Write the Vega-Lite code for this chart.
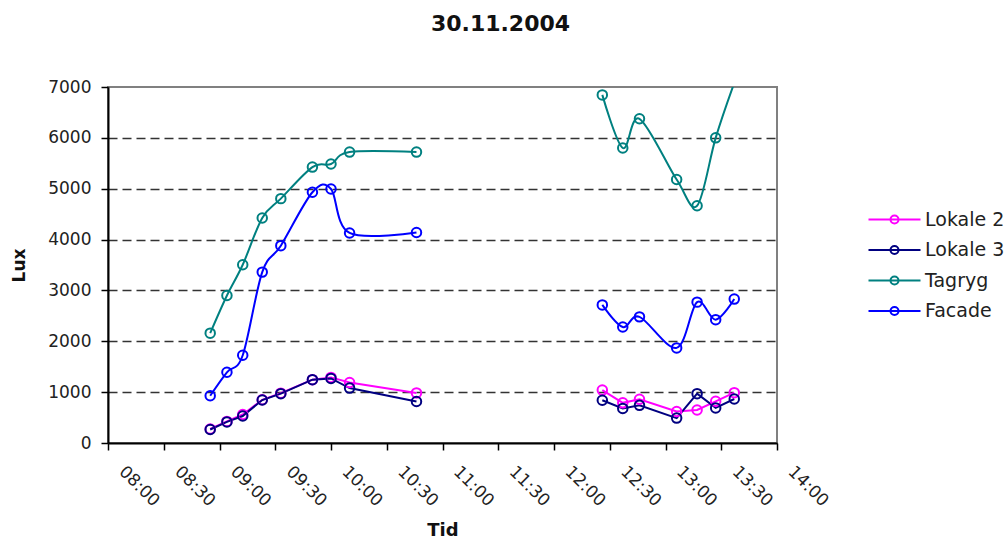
{
  "$schema": "https://vega.github.io/schema/vega-lite/v6.json",
  "width": 669,
  "height": 356,
  "autosize": {"type": "none"},
  "padding": {"left": 108, "top": 87, "right": 231, "bottom": 95},
  "background": "white",
  "config": {"view": {"stroke": "#808080", "strokeWidth": 2}},
  "title": {"text": "30.11.2004", "font": "DejaVu Sans", "fontSize": 22, "fontWeight": "bold", "color": "#111", "anchor": "middle", "frame": "group", "dx": 58, "offset": 25, "baseline": "alphabetic"},
  "data": {"values": [
    {"s": "Tagryg", "seg": 1, "t": "2004-11-30T08:55:00", "v": 2160},
    {"s": "Tagryg", "seg": 1, "t": "2004-11-30T09:04:00", "v": 2900},
    {"s": "Tagryg", "seg": 1, "t": "2004-11-30T09:12:30", "v": 3505},
    {"s": "Tagryg", "seg": 1, "t": "2004-11-30T09:23:00", "v": 4425},
    {"s": "Tagryg", "seg": 1, "t": "2004-11-30T09:33:00", "v": 4805},
    {"s": "Tagryg", "seg": 1, "t": "2004-11-30T09:50:00", "v": 5425},
    {"s": "Tagryg", "seg": 1, "t": "2004-11-30T10:00:00", "v": 5485},
    {"s": "Tagryg", "seg": 1, "t": "2004-11-30T10:10:00", "v": 5720},
    {"s": "Tagryg", "seg": 1, "t": "2004-11-30T10:46:00", "v": 5720},
    {"s": "Tagryg", "seg": 2, "t": "2004-11-30T12:26:00", "v": 6845},
    {"s": "Tagryg", "seg": 2, "t": "2004-11-30T12:37:00", "v": 5800},
    {"s": "Tagryg", "seg": 2, "t": "2004-11-30T12:46:00", "v": 6375},
    {"s": "Tagryg", "seg": 2, "t": "2004-11-30T13:06:00", "v": 5180},
    {"s": "Tagryg", "seg": 2, "t": "2004-11-30T13:17:00", "v": 4665},
    {"s": "Tagryg", "seg": 2, "t": "2004-11-30T13:27:00", "v": 6000},
    {"s": "Tagryg", "seg": 2, "t": "2004-11-30T13:37:00", "v": 7080},
    {"s": "Facade", "seg": 1, "t": "2004-11-30T08:55:00", "v": 930},
    {"s": "Facade", "seg": 1, "t": "2004-11-30T09:04:00", "v": 1390},
    {"s": "Facade", "seg": 1, "t": "2004-11-30T09:12:30", "v": 1725},
    {"s": "Facade", "seg": 1, "t": "2004-11-30T09:23:00", "v": 3360},
    {"s": "Facade", "seg": 1, "t": "2004-11-30T09:33:00", "v": 3880},
    {"s": "Facade", "seg": 1, "t": "2004-11-30T09:50:00", "v": 4930},
    {"s": "Facade", "seg": 1, "t": "2004-11-30T10:00:00", "v": 4995},
    {"s": "Facade", "seg": 1, "t": "2004-11-30T10:10:00", "v": 4130},
    {"s": "Facade", "seg": 1, "t": "2004-11-30T10:46:00", "v": 4140},
    {"s": "Facade", "seg": 2, "t": "2004-11-30T12:26:00", "v": 2715},
    {"s": "Facade", "seg": 2, "t": "2004-11-30T12:37:00", "v": 2280},
    {"s": "Facade", "seg": 2, "t": "2004-11-30T12:46:00", "v": 2480},
    {"s": "Facade", "seg": 2, "t": "2004-11-30T13:06:00", "v": 1870},
    {"s": "Facade", "seg": 2, "t": "2004-11-30T13:17:00", "v": 2770},
    {"s": "Facade", "seg": 2, "t": "2004-11-30T13:27:00", "v": 2425},
    {"s": "Facade", "seg": 2, "t": "2004-11-30T13:37:00", "v": 2830},
    {"s": "Lokale 2", "seg": 1, "t": "2004-11-30T08:55:00", "v": 275},
    {"s": "Lokale 2", "seg": 1, "t": "2004-11-30T09:04:00", "v": 425},
    {"s": "Lokale 2", "seg": 1, "t": "2004-11-30T09:12:30", "v": 560},
    {"s": "Lokale 2", "seg": 1, "t": "2004-11-30T09:23:00", "v": 850},
    {"s": "Lokale 2", "seg": 1, "t": "2004-11-30T09:33:00", "v": 980},
    {"s": "Lokale 2", "seg": 1, "t": "2004-11-30T09:50:00", "v": 1245},
    {"s": "Lokale 2", "seg": 1, "t": "2004-11-30T10:00:00", "v": 1290},
    {"s": "Lokale 2", "seg": 1, "t": "2004-11-30T10:10:00", "v": 1190},
    {"s": "Lokale 2", "seg": 1, "t": "2004-11-30T10:46:00", "v": 985},
    {"s": "Lokale 2", "seg": 2, "t": "2004-11-30T12:26:00", "v": 1040},
    {"s": "Lokale 2", "seg": 2, "t": "2004-11-30T12:37:00", "v": 790},
    {"s": "Lokale 2", "seg": 2, "t": "2004-11-30T12:46:00", "v": 860},
    {"s": "Lokale 2", "seg": 2, "t": "2004-11-30T13:06:00", "v": 620},
    {"s": "Lokale 2", "seg": 2, "t": "2004-11-30T13:17:00", "v": 650},
    {"s": "Lokale 2", "seg": 2, "t": "2004-11-30T13:27:00", "v": 820},
    {"s": "Lokale 2", "seg": 2, "t": "2004-11-30T13:37:00", "v": 990},
    {"s": "Lokale 3", "seg": 1, "t": "2004-11-30T08:55:00", "v": 265},
    {"s": "Lokale 3", "seg": 1, "t": "2004-11-30T09:04:00", "v": 415},
    {"s": "Lokale 3", "seg": 1, "t": "2004-11-30T09:12:30", "v": 530},
    {"s": "Lokale 3", "seg": 1, "t": "2004-11-30T09:23:00", "v": 845},
    {"s": "Lokale 3", "seg": 1, "t": "2004-11-30T09:33:00", "v": 970},
    {"s": "Lokale 3", "seg": 1, "t": "2004-11-30T09:50:00", "v": 1245},
    {"s": "Lokale 3", "seg": 1, "t": "2004-11-30T10:00:00", "v": 1270},
    {"s": "Lokale 3", "seg": 1, "t": "2004-11-30T10:10:00", "v": 1080},
    {"s": "Lokale 3", "seg": 1, "t": "2004-11-30T10:46:00", "v": 815},
    {"s": "Lokale 3", "seg": 2, "t": "2004-11-30T12:26:00", "v": 840},
    {"s": "Lokale 3", "seg": 2, "t": "2004-11-30T12:37:00", "v": 680},
    {"s": "Lokale 3", "seg": 2, "t": "2004-11-30T12:46:00", "v": 740},
    {"s": "Lokale 3", "seg": 2, "t": "2004-11-30T13:06:00", "v": 490},
    {"s": "Lokale 3", "seg": 2, "t": "2004-11-30T13:17:00", "v": 970},
    {"s": "Lokale 3", "seg": 2, "t": "2004-11-30T13:27:00", "v": 690},
    {"s": "Lokale 3", "seg": 2, "t": "2004-11-30T13:37:00", "v": 865}
  ]},
  "encoding": {
    "x": {
      "field": "t", "type": "temporal", "title": "Tid",
      "scale": {"domain": [{"year": 2004, "month": 11, "date": 30, "hours": 8}, {"year": 2004, "month": 11, "date": 30, "hours": 14}], "nice": false},
      "axis": {
        "values": [
          {"year": 2004, "month": 11, "date": 30, "hours": 8},
          {"year": 2004, "month": 11, "date": 30, "hours": 8, "minutes": 30},
          {"year": 2004, "month": 11, "date": 30, "hours": 9},
          {"year": 2004, "month": 11, "date": 30, "hours": 9, "minutes": 30},
          {"year": 2004, "month": 11, "date": 30, "hours": 10},
          {"year": 2004, "month": 11, "date": 30, "hours": 10, "minutes": 30},
          {"year": 2004, "month": 11, "date": 30, "hours": 11},
          {"year": 2004, "month": 11, "date": 30, "hours": 11, "minutes": 30},
          {"year": 2004, "month": 11, "date": 30, "hours": 12},
          {"year": 2004, "month": 11, "date": 30, "hours": 12, "minutes": 30},
          {"year": 2004, "month": 11, "date": 30, "hours": 13},
          {"year": 2004, "month": 11, "date": 30, "hours": 13, "minutes": 30},
          {"year": 2004, "month": 11, "date": 30, "hours": 14}
        ],
        "format": "%H:%M", "labelAngle": 45, "labelAlign": "left", "labelBaseline": "top", "labelOffset": 19, "labelPadding": 13, "labelFlush": false, "labelOverlap": false, "labelFont": "DejaVu Sans", "labelFontSize": 17, "labelColor": "#222", "tickSize": 7, "tickColor": "#000", "tickWidth": 1.5, "domainColor": "#000", "domainWidth": 2, "grid": false, "titleFont": "DejaVu Sans", "titleFontSize": 18, "titleFontWeight": "bold", "titleColor": "#111", "titleY": 87, "titleBaseline": "middle"}
    },
    "y": {
      "field": "v", "type": "quantitative", "title": "Lux",
      "scale": {"domain": [0, 7000], "nice": false},
      "axis": {"values": [0, 1000, 2000, 3000, 4000, 5000, 6000, 7000], "format": "d", "labelFlush": false, "labelFont": "DejaVu Sans", "labelFontSize": 17, "labelColor": "#222", "labelPadding": 10, "tickSize": 7, "tickColor": "#000", "tickWidth": 1.5, "domainColor": "#000", "domainWidth": 2, "grid": true, "gridColor": "#333", "gridDash": [9, 5], "gridWidth": 1.3, "gridOpacity": {"condition": {"test": "datum.value == 0 || datum.value == 7000", "value": 0}, "value": 1}, "titleFont": "DejaVu Sans", "titleFontSize": 17, "titleFontWeight": "bold", "titleColor": "#111", "titleX": -89, "titleY": 178, "titleBaseline": "middle", "titleAngle": 270}
    },
    "color": {
      "field": "s", "type": "nominal",
      "scale": {"domain": ["Lokale 2", "Lokale 3", "Tagryg", "Facade"], "range": ["#FF00FF", "#000080", "#008080", "#0000FF"]},
      "legend": {"orient": "none", "legendX": 777, "legendY": 123, "title": null, "padding": 0, "symbolType": "M-5.2,0H5.2M-0.8,0A0.8,0.8 0 1,1 0.8,0A0.8,0.8 0 1,1 -0.8,0", "symbolSize": 100, "symbolStrokeWidth": 2, "symbolFillColor": "transparent", "symbolOpacity": 1, "labelFont": "DejaVu Sans", "labelFontSize": 19, "labelColor": "#222", "labelOffset": 21, "rowPadding": 10.5, "labelLimit": 300}
    },
    "detail": {"field": "seg", "type": "nominal"}
  },
  "layer": [
    {"transform": [{"filter": "datum.s == 'Lokale 2' || datum.s == 'Lokale 3'"}], "mark": {"type": "line", "strokeWidth": 2}},
    {"transform": [{"filter": "datum.s == 'Tagryg' || datum.s == 'Facade'"}], "mark": {"type": "line", "interpolate": "cardinal", "strokeWidth": 2, "clip": true}},
    {"transform": [{"filter": "datum.v <= 7000"}], "mark": {"type": "point", "shape": "circle", "filled": false, "size": 90, "strokeWidth": 2, "opacity": 1}}
  ]
}
